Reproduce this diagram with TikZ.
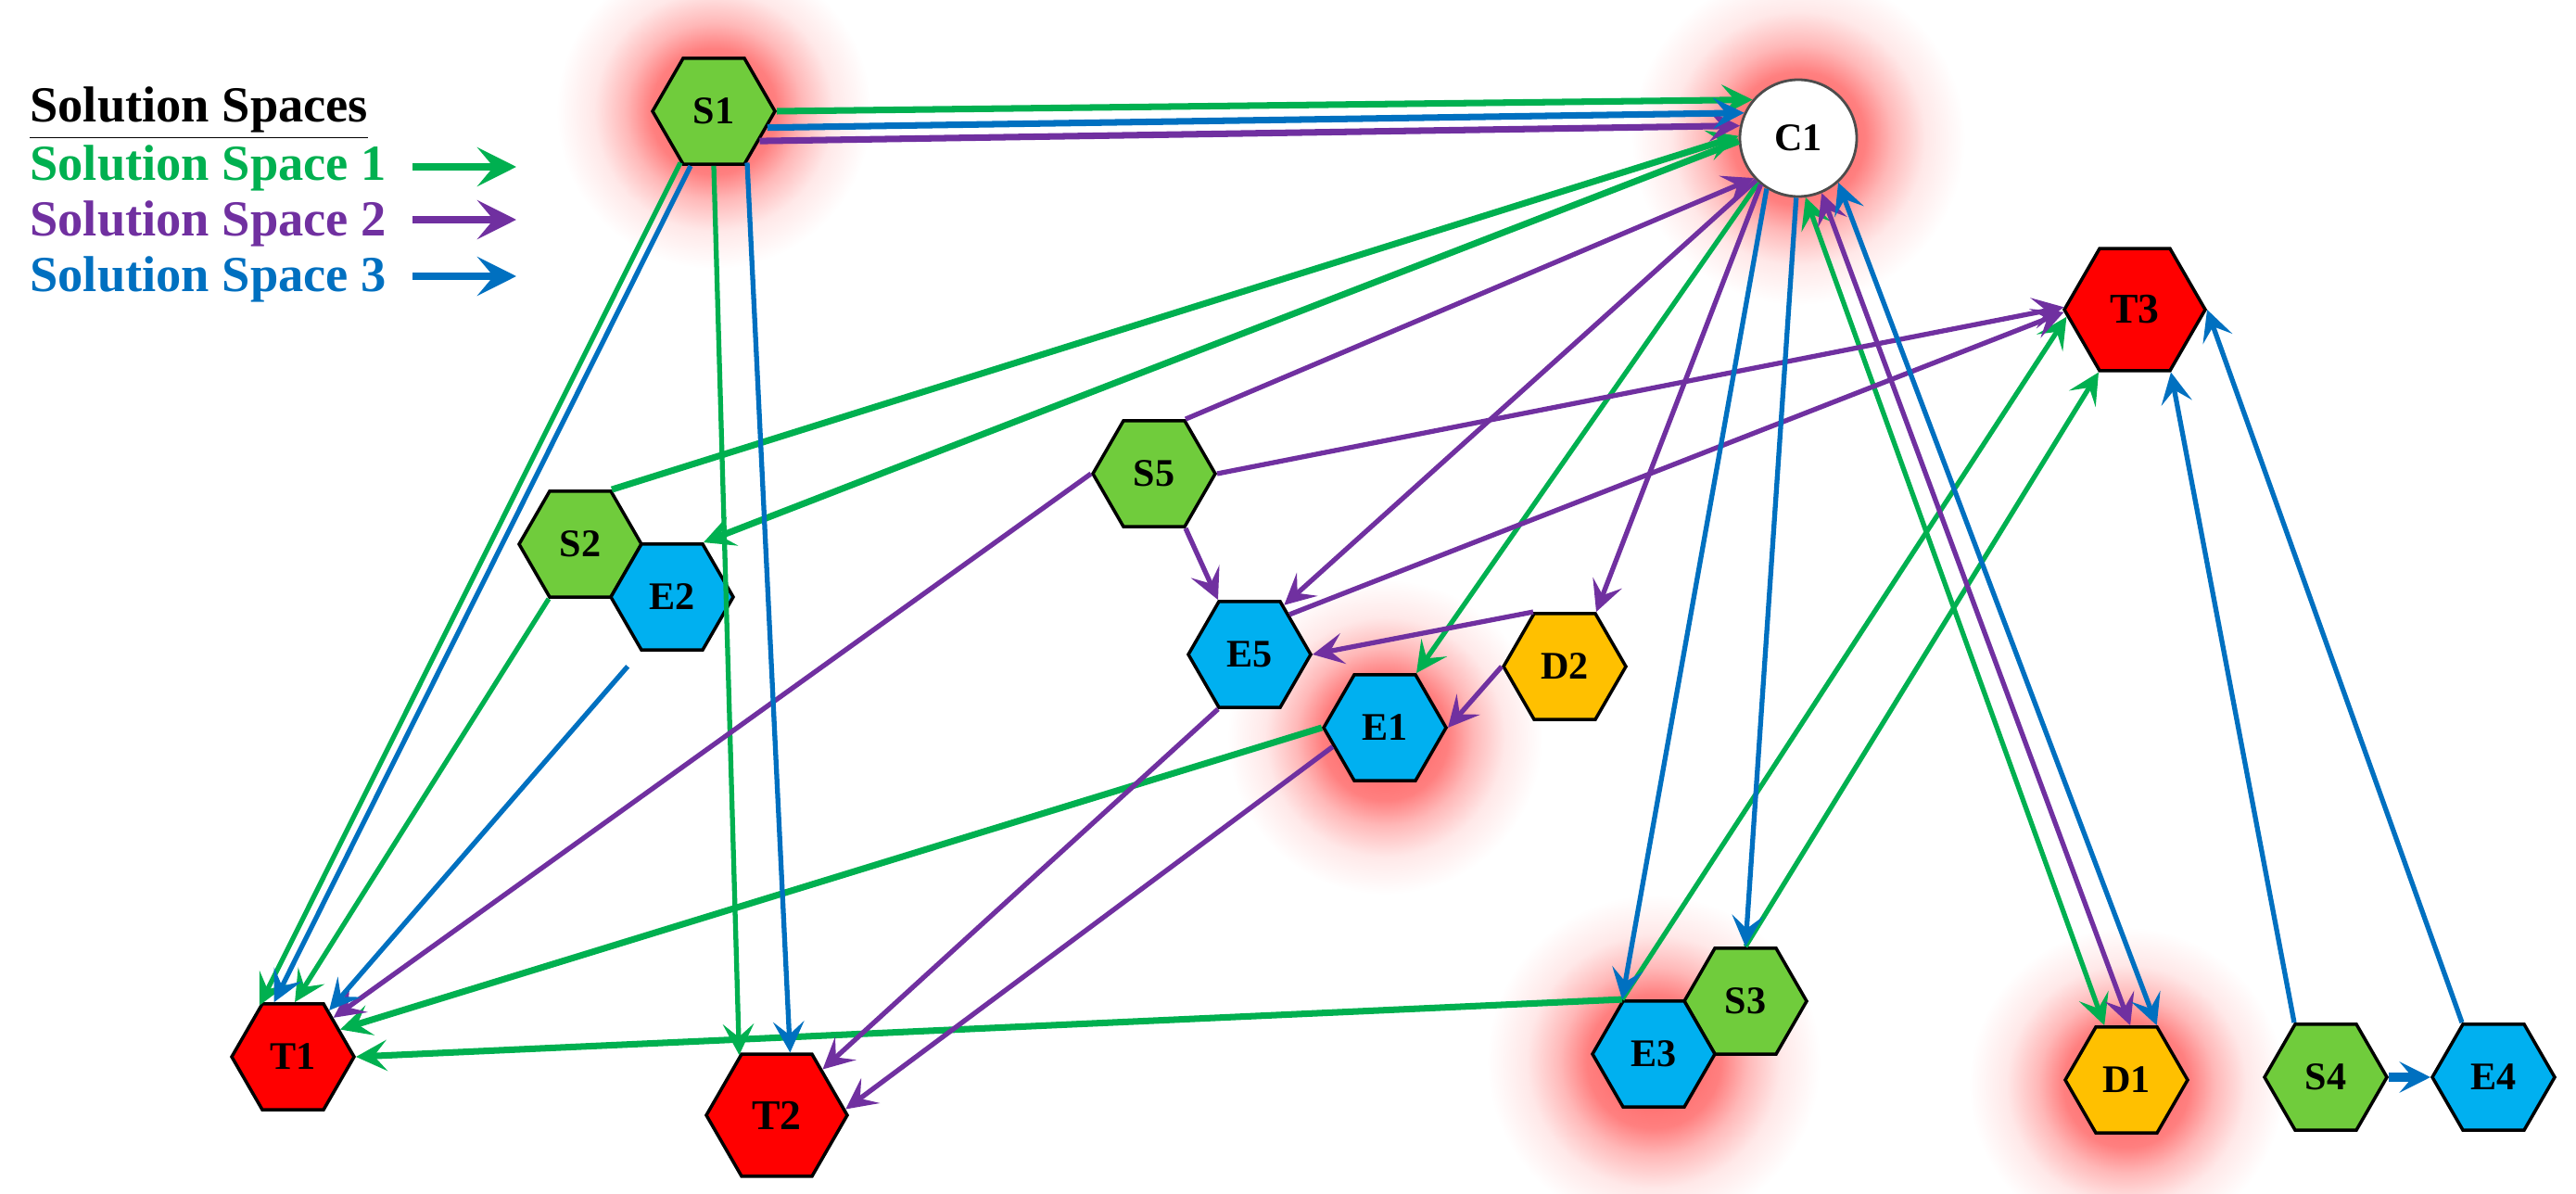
\documentclass[tikz,border=0pt]{standalone}
\usepackage{fontspec}
\setmainfont{Liberation Serif}
\usepackage{tikz}
\usetikzlibrary{shapes.geometric, arrows.meta}
\definecolor{sblock}{RGB}{112, 204, 60}
\definecolor{eblock}{RGB}{0, 176, 240}
\definecolor{tblock}{RGB}{255, 0, 0}
\definecolor{dblock}{RGB}{255, 192, 0}
\definecolor{ssone}{RGB}{0, 176, 80}
\definecolor{sstwo}{RGB}{112, 48, 160}
\definecolor{ssthree}{RGB}{0, 112, 192}
\pgfdeclareradialshading{glow}{\pgfpoint{0cm}{0cm}}{color(0bp)=(red!65); color(10bp)=(red!50); color(14bp)=(red!28); color(19bp)=(red!9); color(25bp)=(white); color(50bp)=(white)}
\tikzset{
	hexnode/.style={regular polygon, regular polygon sides=6, minimum size=1.32cm,
		inner sep=0pt, draw=black, line width=1pt, font=\fontsize{12}{14}\selectfont\bfseries},
	hexS/.style={hexnode, fill=sblock},
	hexE/.style={hexnode, fill=eblock},
	hexT/.style={hexnode, fill=tblock, minimum size=1.52cm, font=\fontsize{13}{15}\selectfont\bfseries},
	hexTs/.style={hexnode, fill=tblock},
	hexD/.style={hexnode, fill=dblock},
	pathone/.style={draw=ssone, line width=1.5pt, ->},
	pathtwo/.style={draw=sstwo, line width=1.5pt, ->},
	paththree/.style={draw=ssthree, line width=1.5pt, ->},
	heavy/.style={line width=2pt},
	legtext/.style={anchor=base west, font=\fontsize{15.5}{18}\selectfont\bfseries},
	legarrow/.style={line width=2pt, -{Stealth[length=12pt, width=12pt, inset=5pt]}}
}

\begin{document}
\begin{tikzpicture}[>={Stealth[length=9.5pt, width=9.5pt, inset=4pt]}]
	\useasboundingbox (0,0) rectangle (27.79,-12.88);

	% Glows behind the critical nodes
	\shade[shading=glow] (7.70,-1.20) circle (1.7cm);
	\shade[shading=glow] (19.40,-1.49) circle (1.8cm);
	\shade[shading=glow] (14.94,-7.95) circle (1.7cm);
	\shade[shading=glow] (17.84,-11.45) circle (1.8cm);
	\shade[shading=glow] (22.94,-11.70) circle (1.7cm);

	% Legend
	\node[legtext] (title) at (0.20,-1.32) {\underline{Solution Spaces}};
	\node[legtext, text=ssone] (leg1) at (0.20,-1.95) {Solution Space 1};
	\node[legtext, text=sstwo] (leg2) at (0.20,-2.55) {Solution Space 2};
	\node[legtext, text=ssthree] (leg3) at (0.20,-3.15) {Solution Space 3};
	\coordinate (la1) at (4.45,-1.80);
	\coordinate (lb1) at (5.57,-1.80);
	\coordinate (la2) at (4.45,-2.37);
	\coordinate (lb2) at (5.57,-2.37);
	\coordinate (la3) at (4.45,-2.98);
	\coordinate (lb3) at (5.57,-2.98);
	\draw[legarrow, ssone] (la1) -- (lb1);
	\draw[legarrow, sstwo] (la2) -- (lb2);
	\draw[legarrow, ssthree] (la3) -- (lb3);

	% Nodes
	\node[hexS] (S1) at (7.70,-1.20) {S1};
	\node[circle, draw=black!70, line width=0.8pt, fill=white, minimum size=1.26cm,
		font=\fontsize{12}{14}\selectfont\bfseries] (C1) at (19.40,-1.49) {C1};
	\node[hexT] (T3) at (23.03,-3.34) {T3};
	\node[hexS] (S5) at (12.45,-5.11) {S5};
	\node[hexS] (S2) at (6.26,-5.87) {S2};
	\node[hexE] (E2) at (7.25,-6.44) {E2};
	\node[hexE] (E5) at (13.48,-7.06) {E5};
	\node[hexD] (D2) at (16.88,-7.19) {D2};
	\node[hexE] (E1) at (14.94,-7.85) {E1};
	\node[hexTs] (T1) at (3.16,-11.40) {T1};
	\node[hexT] (T2) at (8.38,-12.03) {T2};
	\node[hexS] (S3) at (18.83,-10.80) {S3};
	\node[hexE] (E3) at (17.84,-11.37) {E3};
	\node[hexD] (D1) at (22.94,-11.65) {D1};
	\node[hexS] (S4) at (25.09,-11.62) {S4};
	\node[hexE] (E4) at (26.90,-11.62) {E4};

	% Solution Space 1
	\draw[pathone, heavy] (S1.0) -- (C1.140);
	\draw[pathone] (S1.237) -- (T1.123);
	\draw[pathone] (S1.south) -- (T2.122);
	\draw[pathone, heavy] (S2.60) -- (C1.178);
	\draw[pathone, heavy] (C1.183) -- (E2.60);
	\draw[pathone] (S2.240) -- (T1.88);
	\draw[pathone] (C1.228) -- (E1.60);
	\draw[pathone, heavy] (E1.180) -- (T1.30);
	\draw[pathone, heavy] (E3.120) -- (T1.0);
	\draw[pathone] (E3.120) -- (T3.186);
	\draw[pathone] (S3.90) -- (T3.240);
	\draw[pathone, <->] (C1.277) -- (D1.112);

	% Solution Space 2
	\draw[pathtwo, heavy] (S1.-33) -- (C1.168);
	\draw[pathtwo] (S5.180) -- (T1.44);
	\draw[pathtwo] (S5.60) -- (C1.222);
	\draw[pathtwo] (S5.0) -- (T3.178);
	\draw[pathtwo] (S5.-60) -- (E5.120);
	\draw[pathtwo] (C1.225) -- (E5.55);
	\draw[pathtwo] (E5.45) -- (T3.182);
	\draw[pathtwo] (D2.120) -- (E5.0);
	\draw[pathtwo] (C1.231) -- (D2.60);
	\draw[pathtwo] (D2.180) -- (E1.0);
	\draw[pathtwo] (E1.200) -- (T2.5);
	\draw[pathtwo] (E5.240) -- (T2.45);
	\draw[pathtwo, <->] (C1.293) -- (D1.86);

	% Solution Space 3
	\draw[paththree, heavy] (S1.-17) -- (C1.155);
	\draw[paththree] (S1.247) -- (T1.109);
	\draw[paththree] (S1.-57) -- (T2.78);
	\draw[paththree, shorten <=6pt] (E2.240) -- (T1.52);
	\draw[paththree] (C1.238) -- (E3.120);
	\draw[paththree] (C1.268) -- (S3.90);
	\draw[paththree, <->] (C1.312) -- (D1.61);
	\draw[paththree] (S4.120) -- (T3.300);
	\draw[paththree] (E4.120) -- (T3.0);
	\draw[paththree, line width=2.6pt] (S4.0) -- (E4.180);
\end{tikzpicture}
\end{document}
